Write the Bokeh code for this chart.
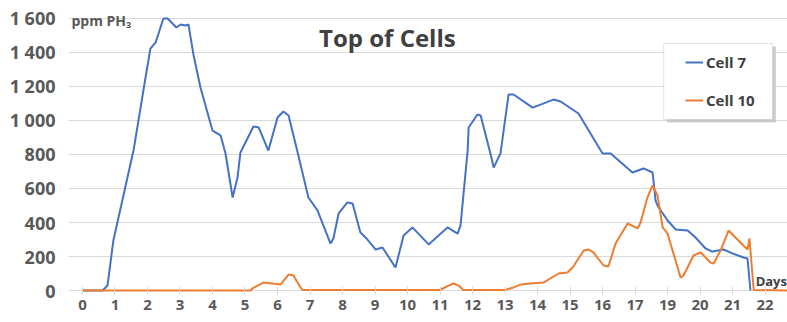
from bokeh.plotting import figure
from bokeh.models import (Range1d, FixedTicker, Label, Legend, LegendItem, BoxAnnotation)
from bokeh.embed import file_html
from bokeh.resources import INLINE

# ---- data (x = position along the day axis, y = ppm PH3) ----
cell7_x = [0, 0.62, 0.77, 0.95, 1.57, 1.94, 2.09, 2.25, 2.49, 2.62, 2.89, 3.02, 3.17, 3.26,
           3.42, 3.63, 4.0, 4.25, 4.4, 4.62, 4.77, 4.86, 5.26, 5.42, 5.72, 6.0, 6.18, 6.34,
           6.62, 6.95, 7.23, 7.63, 7.72, 7.88, 8.15, 8.31, 8.55, 8.71, 9.02, 9.23, 9.63,
           9.88, 10.15, 10.65, 11.23, 11.54, 11.63, 11.85, 11.88, 12.15, 12.25, 12.55, 12.65,
           12.86, 13.11, 13.26, 13.85, 14.49, 14.71, 15.26, 15.63, 16.0, 16.25, 16.92, 17.26,
           17.54, 17.57, 17.63, 17.69, 18.0, 18.25, 18.62, 18.86, 19.17, 19.38, 19.72, 20.0,
           20.34, 20.46, 20.55]
cell7_y = [0, 0, 29, 294, 823, 1253, 1423, 1459, 1600, 1600, 1547, 1565, 1559, 1565,
           1382, 1194, 941, 912, 806, 547, 665, 812, 965, 959, 823, 1018, 1053, 1029,
           812, 547, 471, 276, 306, 453, 518, 512, 341, 312, 241, 253, 135,
           324, 371, 271, 371, 335, 382, 823, 959, 1035, 1029, 806, 723,
           806, 1153, 1153, 1076, 1123, 1112, 1041, 923, 806, 806, 694, 718,
           694, 640, 530, 500, 412, 359, 353, 312, 247, 229, 241, 218,
           194, 188, 0]

cell10_x = [0, 5.17, 5.23, 5.57, 5.85, 6.09, 6.34, 6.49, 6.71, 6.77, 11.0, 11.26, 11.42,
            11.57, 11.72, 13.0, 13.26, 13.48, 13.78, 14.18, 14.65, 14.92, 15.08, 15.42,
            15.57, 15.72, 16.03, 16.18, 16.4, 16.77, 17.08, 17.17, 17.38, 17.54, 17.69,
            17.85, 18.0, 18.4, 18.49, 18.8, 19.02, 19.32, 19.42, 19.63, 19.88, 20.18,
            20.46, 20.52, 20.65, 21.69]
cell10_y = [0, 0, 12, 47, 41, 35, 94, 88, 18, 3, 3, 29, 41,
            29, 3, 3, 18, 35, 41, 47, 100, 106, 135, 235,
            241, 224, 147, 141, 276, 394, 365, 400, 547, 618, 559,
            371, 335, 76, 88, 206, 224, 165, 159, 235, 353, 294,
            241, 306, 3, 0]

x_tick_labels = ["0", "1", "2", "3", "4", "5", "6", "7", "8", "9", "10", "11", "12",
                 "13", "14", "15", "16", "17", "19", "20", "21", "22"]
y_ticks = [0, 200, 400, 600, 800, 1000, 1200, 1400, 1600]
y_tick_labels = ["0", "200", "400", "600", "800", "1 000", "1 200", "1 400", "1 600"]
series_names = ["Cell 7", "Cell 10"]
series_colors = ["#4472C4", "#ED7D31"]

FONT = "Open Sans"
AXIS_GRAY = "#595959"
DARK = "#404040"

p = figure(width=787, height=322, output_backend="svg", toolbar_location=None,
           x_range=Range1d(-0.43, 21.69), y_range=Range1d(-23.5, 1647),
           min_border_left=68, min_border_right=0, min_border_top=10, min_border_bottom=28)
p.outline_line_color = None
p.background_fill_color = "white"
p.border_fill_color = "white"

p.xgrid.visible = False
p.ygrid.ticker = FixedTicker(ticks=y_ticks)
p.ygrid.grid_line_color = "#d9d9d9"
p.ygrid.grid_line_width = 1

xa = p.xaxis[0]
xa.ticker = FixedTicker(ticks=list(range(len(x_tick_labels))))
xa.major_label_overrides = {i: s for i, s in enumerate(x_tick_labels)}
xa.axis_line_color = None
xa.major_tick_in = 8
xa.major_tick_out = 0
xa.major_tick_line_color = "#d9d9d9"
xa.minor_tick_line_color = None
xa.major_label_standoff = 5
xa.major_label_text_font = FONT
xa.major_label_text_font_style = "bold"
xa.major_label_text_font_size = "15px"
xa.major_label_text_color = AXIS_GRAY

ya = p.yaxis[0]
ya.ticker = FixedTicker(ticks=y_ticks)
ya.major_label_overrides = {v: s for v, s in zip(y_ticks, y_tick_labels)}
ya.axis_line_color = None
ya.major_tick_line_color = None
ya.minor_tick_line_color = None
ya.major_label_standoff = 7
ya.major_label_text_font = FONT
ya.major_label_text_font_style = "bold"
ya.major_label_text_font_size = "18px"
ya.major_label_text_color = AXIS_GRAY

r7 = p.line(cell7_x, cell7_y, line_color=series_colors[0], line_width=2)
r10 = p.line(cell10_x, cell10_y, line_color=series_colors[1], line_width=2)

# title and axis captions
p.add_layout(Label(x=9.38, y=1488, text="Top of Cells", text_align="center",
                   text_baseline="middle", text_font=FONT, text_font_style="bold",
                   text_font_size="24px", text_color=DARK))
p.add_layout(Label(x=-0.34, y=1588, text="ppm PH\u2083", text_align="left",
                   text_baseline="middle", text_font=FONT, text_font_style="bold",
                   text_font_size="14px", text_color=AXIS_GRAY))
p.add_layout(Label(x=20.71, y=53, text="Days", text_align="left",
                   text_baseline="middle", text_font=FONT, text_font_style="bold",
                   text_font_size="13px", text_color=DARK))

# legend frame with shadow
p.add_layout(BoxAnnotation(left=17.98, right=21.33, top=1435, bottom=988,
                           fill_color="#bfbfbf", fill_alpha=0.8, line_color=None))
p.add_layout(BoxAnnotation(left=17.88, right=21.23, top=1453, bottom=1006,
                           fill_color="white", fill_alpha=1.0, line_color="#a6a6a6",
                           line_width=1))

legend = Legend(items=[LegendItem(label=series_names[0], renderers=[r7]),
                       LegendItem(label=series_names[1], renderers=[r10])],
                location=(617, 184), orientation="vertical",
                padding=0, margin=0, spacing=18, label_height=20, glyph_height=20,
                glyph_width=18, label_standoff=3,
                label_text_font=FONT, label_text_font_style="bold",
                label_text_font_size="15px", label_text_color=DARK,
                border_line_color=None, background_fill_alpha=0)
p.add_layout(legend)

open("out.html", "w").write(file_html(p, INLINE))
